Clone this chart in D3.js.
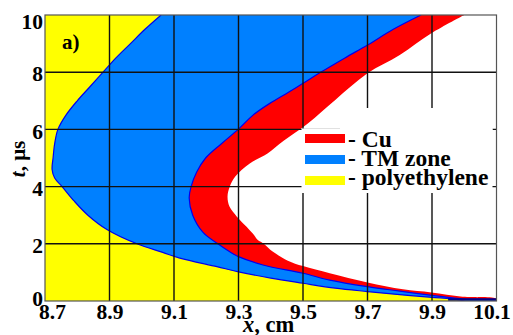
<!DOCTYPE html>
<html><head><meta charset="utf-8">
<script src="https://cdn.jsdelivr.net/npm/d3@7"></script>
</head>
<body style="margin:0">
<svg id="c" width="513" height="335" font-family="Liberation Serif"></svg>
<script>
// polyethylene / TM zone boundary
const tPoly = [10, 9.5, 9, 8.5, 8, 7.5, 7, 6.5, 6, 5.5, 5, 4.6, 4.3, 4, 3.5, 3, 2.5, 2, 1.7, 1.5, 1.2, 1.02, 0.8, 0.62, 0.45, 0.33, 0.22, 0.13, 0.05, 0];
const xPoly = [9.06, 9.01, 8.965, 8.92, 8.88, 8.84, 8.80, 8.765, 8.74, 8.73, 8.725, 8.722, 8.73, 8.753, 8.79, 8.833, 8.892, 8.985, 9.065, 9.118, 9.233, 9.30, 9.40, 9.50, 9.60, 9.70, 9.80, 9.90, 9.98, 10.0];
// TM zone / Cu boundary
const tCuIn = [10, 9.5, 8.95, 8.5, 7.98, 7.61, 7.3, 6.91, 6.5, 6.0, 5.5, 5.0, 4.5, 4.0, 3.6, 3.0, 2.4, 2.0, 1.72, 1.55, 1.26, 0.97, 0.73, 0.5, 0.36, 0.2, 0.07, 0.03, 0];
const xCuIn = [9.866, 9.78, 9.70, 9.63, 9.552, 9.50, 9.455, 9.397, 9.345, 9.299, 9.247, 9.198, 9.170, 9.153, 9.147, 9.158, 9.19, 9.236, 9.273, 9.30, 9.376, 9.50, 9.583, 9.70, 9.79, 9.90, 10.0, 10.1, 10.1];
// Cu / vacuum boundary
const tCuOut = [10, 9.36, 8.6, 7.96, 7.03, 6.21, 5.6, 5.16, 4.81, 4.35, 4.0, 3.65, 3.3, 2.95, 2.6, 2.35, 2.13, 2.02, 1.72, 1.41, 1.22, 0.97, 0.65, 0.41, 0.3, 0.15, 0.08, 0];
const xCuOut = [10.0, 9.898, 9.80, 9.70, 9.60, 9.515, 9.44, 9.39, 9.335, 9.29, 9.273, 9.266, 9.272, 9.295, 9.325, 9.345, 9.36, 9.376, 9.407, 9.453, 9.50, 9.583, 9.70, 9.81, 9.898, 9.995, 10.1, 10.1];

const xTicks = [8.7, 8.9, 9.1, 9.3, 9.5, 9.7, 9.9, 10.1];
const yTicks = [0, 2, 4, 6, 8, 10];
const legendLabels = ["- Cu", "- TM zone", "- polyethylene"];
const legendColors = ["#ff0000", "#0080ff", "#ffff00"];

const FONT = "Liberation Serif";
const L = 45, R = 496.5, T = 15, B = 301;
const svg = d3.select("#c");
const x = d3.scaleLinear().domain([8.7, 10.1]).range([L, R]);
const y = d3.scaleLinear().domain([0, 10]).range([B, T]);

svg.append("defs").append("clipPath").attr("id", "clip")
  .append("rect").attr("x", L).attr("y", T).attr("width", R - L).attr("height", B - T);
const g = svg.append("g").attr("clip-path", "url(#clip)");

g.append("rect").attr("x", L).attr("y", T).attr("width", R - L).attr("height", B - T).attr("fill", "#ffff00");

function zip(ts, xs) { return ts.map((t, i) => ({t: t, x: xs[i]})); }
const curve = d3.curveCatmullRom.alpha(0.5);
const area = d3.area().curve(curve).y(d => y(d.t)).x0(x(10.1) + 2).x1(d => x(d.x));
const line = d3.line().curve(curve).y(d => y(d.t)).x(d => x(d.x));

g.append("path").attr("d", area(zip(tPoly, xPoly))).attr("fill", "#0080ff");
g.append("path").attr("d", line(zip(tPoly, xPoly))).attr("fill", "none").attr("stroke", "#0000ee").attr("stroke-width", 1.2);
g.append("path").attr("d", area(zip(tCuIn, xCuIn))).attr("fill", "#ff0000");
g.append("path").attr("d", line(zip(tCuIn, xCuIn))).attr("fill", "none").attr("stroke", "#0000ee").attr("stroke-width", 1.2);
g.append("path").attr("d", area(zip(tCuOut, xCuOut))).attr("fill", "#ffffff");
g.append("path").attr("d", line([{t: 0.05, x: 9.95}, {t: 0.05, x: 10.1}])).attr("stroke", "#000088").attr("stroke-width", 2.5);

// grid
const grid = svg.append("g");
xTicks.slice(1, -1).forEach(v => grid.append("line").attr("x1", x(v)).attr("x2", x(v)).attr("y1", T).attr("y2", B).attr("stroke", "#111").attr("stroke-width", 1.4));
yTicks.slice(1, -1).forEach(v => grid.append("line").attr("y1", y(v)).attr("y2", y(v)).attr("x1", L).attr("x2", R).attr("stroke", "#111").attr("stroke-width", 1.4));

// frame
svg.append("rect").attr("x", L).attr("y", T).attr("width", R - L).attr("height", B - T)
  .attr("fill", "none").attr("stroke", "#555").attr("stroke-width", 1.2);

// legend background boxes
svg.append("rect").attr("x", 301.5).attr("y", 128.5).attr("width", 191).attr("height", 64.5).attr("fill", "#fff");
svg.append("rect").attr("x", 340).attr("y", 108).attr("width", 152.5).attr("height", 22).attr("fill", "#fff");

const leg = svg.append("g");
const swY = [134, 155, 176];
const baseY = [146.5, 165.5, 185];
legendLabels.forEach((lab, i) => {
  leg.append("rect").attr("x", 305).attr("y", swY[i]).attr("width", 40).attr("height", 9).attr("fill", legendColors[i]);
  leg.append("text").attr("x", 348).attr("y", baseY[i]).attr("font-family", FONT).attr("font-weight", "bold").attr("font-size", 23.5).attr("fill", "#000").text(lab);
});

// axes
const xAxis = svg.append("g").attr("transform", `translate(0,${B})`)
  .call(d3.axisBottom(x).tickValues(xTicks).tickSize(0).tickPadding(0).tickFormat(d3.format(".1f")))
  .attr("font-family", FONT).attr("font-size", 21);
xAxis.select(".domain").remove();
xAxis.selectAll("text").attr("y", 17.5).attr("dy", 0)
  .attr("dx", (d, i) => i === 0 ? 7 : (i === xTicks.length - 1 ? -5 : 0))
  .attr("font-family", FONT).attr("font-weight", "bold").attr("font-size", 21.5).attr("fill", "#000");

const yAxis = svg.append("g").attr("transform", `translate(${L},0)`)
  .call(d3.axisLeft(y).tickValues(yTicks).tickSize(0).tickPadding(2).tickFormat(d3.format("d")))
  .attr("font-family", FONT).attr("font-size", 21);
yAxis.select(".domain").remove();
yAxis.selectAll("text").attr("dy", (d) => d === 10 ? "0.62em" : (d === 0 ? "0.2em" : "0.4em"))
  .attr("font-family", FONT).attr("font-weight", "bold").attr("font-size", 21.5).attr("fill", "#000");

// axis titles
const xt = svg.append("text").attr("x", 243).attr("y", 331.5)
  .attr("font-family", FONT).attr("font-weight", "bold").attr("font-size", 22.5);
xt.append("tspan").attr("font-style", "italic").text("x");
xt.append("tspan").text(", cm");

const yt = svg.append("text").attr("transform", "translate(25,159) rotate(-90)").attr("text-anchor", "middle")
  .attr("font-family", FONT).attr("font-weight", "bold").attr("font-size", 21);
yt.append("tspan").attr("font-style", "italic").text("t");
yt.append("tspan").text(", μs");

svg.append("text").attr("x", 62).attr("y", 49)
  .attr("font-family", FONT).attr("font-weight", "bold").attr("font-size", 21).text("a)");
</script>
</body></html>
